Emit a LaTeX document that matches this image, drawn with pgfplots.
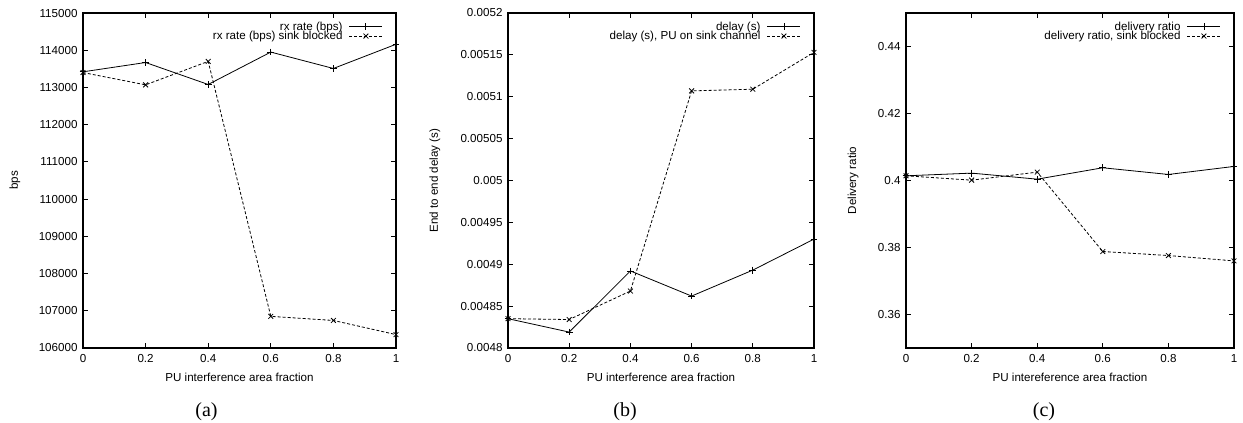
\documentclass[border=0pt]{standalone}
\usepackage{pgfplots}
\pgfplotsset{compat=1.18}
\usepackage{fontspec}
\setmainfont{Liberation Sans}
\newfontfamily\capfont{Liberation Serif}
\newcommand{\tf}{\fontsize{11.6}{12}\selectfont}
\pgfplotsset{
  gp/.style={
    scale only axis,
    anchor=south west,
    height=335pt,
    xmin=0, xmax=1,
    scaled y ticks=false,
    scaled x ticks=false,
    xtick={0,0.2,0.4,0.6,0.8,1},
    xticklabels={0,0.2,0.4,0.6,0.8,1},
    tick align=inside,
    major tick length=5pt,
    tick style={black, line width=0.8pt},
    axis line style={line width=1.3pt},
    tick label style={font=\tf},
    label style={font=\tf},
    xticklabel style={yshift=-3pt},
    yticklabel style={xshift=-2pt},
    xlabel style={at={(axis description cs:0.5,-0.0866)}, anchor=center},
    legend style={draw=none, fill=none, font=\tf, at={(axis description cs:1,1)}, anchor=north east,
      xshift=-10pt, yshift=-5pt, row sep=-3.5pt,
      nodes={inner sep=1.5pt},
      /tikz/every odd column/.append style={column sep=5pt}},
    legend cell align=right,
    legend plot pos=right,
    legend image code/.code={%
      \draw[#1, mark=none] (0pt,0pt) -- (33pt,0pt);
      \draw[#1, only marks] plot coordinates {(16.5pt,0pt)};},
    every axis plot/.append style={line width=0.8pt, black, mark size=3.4pt},
  },
  s1/.style={solid, mark=+, mark options={solid}},
  s2/.style={dash pattern=on 3pt off 2pt, mark=x, mark options={solid}},
}
\begin{document}
\begin{tikzpicture}[x=1pt,y=1pt]
\useasboundingbox (0,0) rectangle (1243,423);
% (a)
\begin{axis}[gp, at={(83pt,75pt)}, width=313pt,
  ymin=106000, ymax=115000,
  ytick={106000,107000,108000,109000,110000,111000,112000,113000,114000,115000},
  yticklabels={106000,107000,108000,109000,110000,111000,112000,113000,114000,115000},
  xlabel={PU interference area fraction},
  ylabel={bps},
  ylabel style={at={(axis description cs:-0.2173,0.5)}, anchor=center},
]
\addplot[s1] coordinates {(0,113420) (0.2,113670) (0.4,113080) (0.6,113950) (0.8,113510) (1,114160)};
\addlegendentry{rx rate (bps)}
\addplot[s2] coordinates {(0,113400) (0.2,113070) (0.4,113700) (0.6,106850) (0.8,106740) (1,106360)};
\addlegendentry{rx rate (bps) sink blocked}
\end{axis}
% (b)
\begin{axis}[gp, at={(508pt,75pt)}, width=306pt,
  ymin=0.0048, ymax=0.0052,
  ytick={0.0048,0.00485,0.0049,0.00495,0.005,0.00505,0.0051,0.00515,0.0052},
  yticklabels={0.0048,0.00485,0.0049,0.00495,0.005,0.00505,0.0051,0.00515,0.0052},
  xlabel={PU interference area fraction},
  ylabel={End to end delay (s)},
  ylabel style={at={(axis description cs:-0.2386,0.5)}, anchor=center},
]
\addplot[s1] coordinates {(0,0.004835) (0.2,0.004819) (0.4,0.004892) (0.6,0.004862) (0.8,0.004893) (1,0.004930)};
\addlegendentry{delay (s)}
\addplot[s2] coordinates {(0,0.004835) (0.2,0.004834) (0.4,0.004868) (0.6,0.005107) (0.8,0.005109) (1,0.005153)};
\addlegendentry{delay (s), PU on sink channel}
\end{axis}
% (c)
\begin{axis}[gp, at={(906pt,75pt)}, width=328pt,
  ymin=0.35, ymax=0.45,
  ytick={0.36,0.38,0.40,0.42,0.44},
  yticklabels={0.36,0.38,0.4,0.42,0.44},
  xlabel={PU intereference area fraction},
  ylabel={Delivery ratio},
  ylabel style={at={(axis description cs:-0.1616,0.5)}, anchor=center},
]
\addplot[s1] coordinates {(0,0.4014) (0.2,0.4022) (0.4,0.4004) (0.6,0.4038) (0.8,0.4018) (1,0.4042)};
\addlegendentry{delivery ratio}
\addplot[s2] coordinates {(0,0.4014) (0.2,0.4001) (0.4,0.4025) (0.6,0.3788) (0.8,0.3776) (1,0.3760)};
\addlegendentry{delivery ratio, sink blocked}
\end{axis}
\node[font=\capfont\fontsize{20}{22}\selectfont] at (206.5,11) {(a)};
\node[font=\capfont\fontsize{20}{22}\selectfont] at (625,11) {(b)};
\node[font=\capfont\fontsize{20}{22}\selectfont] at (1044,11) {(c)};
\end{tikzpicture}
\end{document}
